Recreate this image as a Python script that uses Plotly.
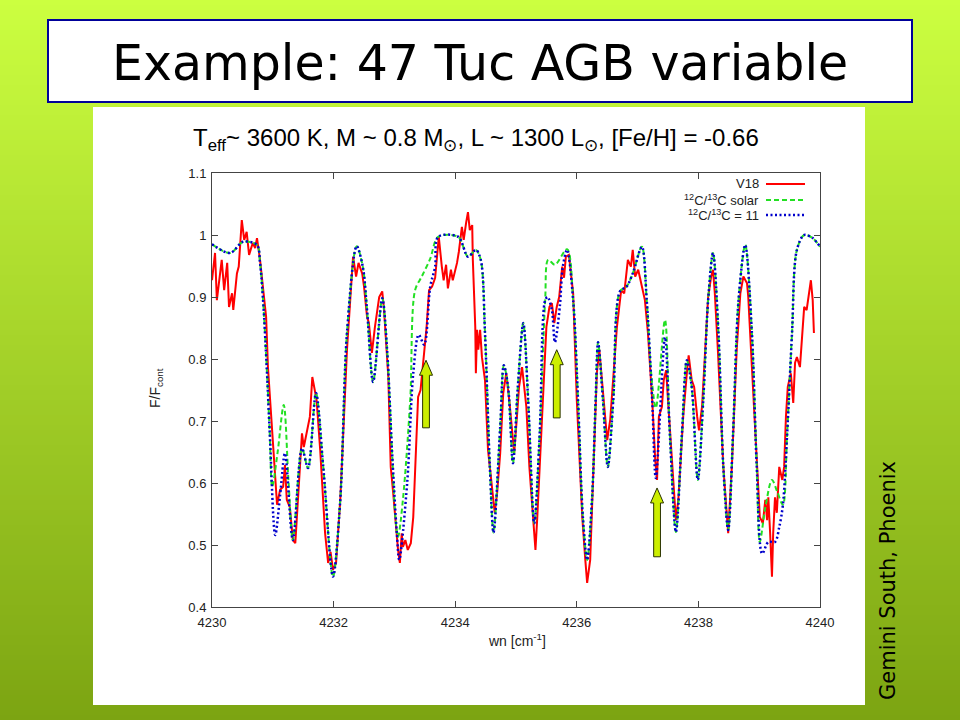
import plotly.graph_objects as go

# ---------------- data ----------------
x_ticks = [4230, 4232, 4234, 4236, 4238, 4240]
x_tick_labels = ["4230", "4232", "4234", "4236", "4238", "4240"]
y_ticks = [0.4, 0.5, 0.6, 0.7, 0.8, 0.9, 1.0, 1.1]
y_tick_labels = ["0.4", "0.5", "0.6", "0.7", "0.8", "0.9", "1", "1.1"]

obs_x = [4230.00, 4230.05, 4230.08, 4230.16, 4230.20, 4230.25, 4230.28, 4230.33, 4230.35, 4230.41,
         4230.44, 4230.49, 4230.53, 4230.57, 4230.61, 4230.67, 4230.71, 4230.74, 4230.79, 4230.84,
         4230.89, 4230.92, 4230.99, 4231.04, 4231.07, 4231.12, 4231.17, 4231.20, 4231.23, 4231.28,
         4231.33, 4231.37, 4231.40, 4231.48, 4231.51, 4231.56, 4231.61, 4231.65, 4231.68, 4231.72,
         4231.78, 4231.86, 4231.91, 4231.95, 4231.99, 4232.04, 4232.11, 4232.22, 4232.32, 4232.37,
         4232.41, 4232.47, 4232.50, 4232.55, 4232.58, 4232.63, 4232.68, 4232.75, 4232.80, 4232.83,
         4232.90, 4232.94, 4232.98, 4233.03, 4233.06, 4233.09, 4233.12, 4233.14, 4233.18, 4233.22,
         4233.27, 4233.31, 4233.36, 4233.39, 4233.43, 4233.47, 4233.53, 4233.57, 4233.62, 4233.67,
         4233.70, 4233.73, 4233.78, 4233.81, 4233.85, 4233.88, 4233.93, 4233.96, 4234.03, 4234.06,
         4234.11, 4234.14, 4234.18, 4234.21, 4234.24, 4234.28, 4234.29, 4234.33, 4234.34, 4234.36,
         4234.38, 4234.41, 4234.44, 4234.49, 4234.54, 4234.61, 4234.65, 4234.69, 4234.74, 4234.79,
         4234.84, 4234.90, 4234.97, 4235.02, 4235.05, 4235.10, 4235.12, 4235.17, 4235.22, 4235.28,
         4235.32, 4235.35, 4235.43, 4235.50, 4235.55, 4235.59, 4235.63, 4235.67, 4235.71, 4235.76,
         4235.79, 4235.82, 4235.87, 4235.94, 4236.00, 4236.09, 4236.14, 4236.17, 4236.22, 4236.27,
         4236.33, 4236.37, 4236.43, 4236.50, 4236.55, 4236.61, 4236.66, 4236.73, 4236.78, 4236.84,
         4236.89, 4236.92, 4236.96, 4237.01, 4237.07, 4237.12, 4237.17, 4237.24, 4237.29, 4237.32,
         4237.35, 4237.40, 4237.43, 4237.47, 4237.50, 4237.57, 4237.63, 4237.67, 4237.75, 4237.81,
         4237.84, 4237.89, 4237.93, 4237.98, 4238.01, 4238.06, 4238.11, 4238.16, 4238.21, 4238.24,
         4238.27, 4238.32, 4238.41, 4238.47, 4238.49, 4238.55, 4238.63, 4238.69, 4238.74, 4238.80,
         4238.82, 4238.88, 4238.96, 4239.01, 4239.06, 4239.10, 4239.13, 4239.15, 4239.18, 4239.21,
         4239.23, 4239.26, 4239.29, 4239.33, 4239.38, 4239.41, 4239.44, 4239.47, 4239.52, 4239.56,
         4239.59, 4239.62, 4239.67, 4239.70, 4239.74, 4239.78, 4239.82, 4239.85, 4239.88, 4239.90]
obs_y = [0.927, 0.971, 0.895, 0.960, 0.911, 0.955, 0.884, 0.906, 0.879, 0.938,
         0.949, 1.024, 0.992, 1.005, 0.968, 0.987, 0.979, 0.995, 0.960, 0.917,
         0.868, 0.787, 0.680, 0.610, 0.565, 0.589, 0.594, 0.629, 0.573, 0.561,
         0.508, 0.503, 0.552, 0.680, 0.658, 0.680, 0.707, 0.771, 0.755, 0.734,
         0.653, 0.519, 0.471, 0.489, 0.460, 0.471, 0.573, 0.815, 0.965, 0.933,
         0.955, 0.938, 0.917, 0.868, 0.858, 0.810, 0.852, 0.900, 0.909, 0.879,
         0.771, 0.626, 0.584, 0.524, 0.492, 0.471, 0.519, 0.497, 0.508, 0.492,
         0.503, 0.545, 0.653, 0.739, 0.750, 0.787, 0.852, 0.911, 0.917, 0.931,
         0.971, 0.997, 0.949, 0.927, 0.952, 0.914, 0.944, 0.927, 0.955, 0.973,
         1.013, 0.992, 1.020, 1.037, 1.008, 1.016, 0.960, 0.852, 0.777, 0.847,
         0.815, 0.847, 0.803, 0.766, 0.653, 0.584, 0.552, 0.584, 0.648, 0.745,
         0.777, 0.723, 0.648, 0.713, 0.755, 0.787, 0.766, 0.723, 0.626, 0.552,
         0.492, 0.545, 0.707, 0.852, 0.884, 0.890, 0.858, 0.884, 0.900, 0.949,
         0.931, 0.965, 0.968, 0.906, 0.734, 0.545, 0.476, 0.439, 0.476, 0.626,
         0.777, 0.815, 0.750, 0.669, 0.702, 0.787, 0.852, 0.911, 0.906, 0.960,
         0.949, 0.976, 0.933, 0.944, 0.917, 0.895, 0.842, 0.734, 0.637, 0.605,
         0.707, 0.723, 0.766, 0.782, 0.734, 0.626, 0.540, 0.573, 0.707, 0.777,
         0.806, 0.766, 0.755, 0.707, 0.685, 0.723, 0.815, 0.900, 0.933, 0.944,
         0.906, 0.815, 0.626, 0.535, 0.519, 0.626, 0.815, 0.906, 0.933, 0.922,
         0.900, 0.787, 0.626, 0.545, 0.535, 0.573, 0.540, 0.577, 0.519, 0.449,
         0.519, 0.577, 0.552, 0.626, 0.605, 0.626, 0.707, 0.755, 0.777, 0.729,
         0.794, 0.803, 0.787, 0.826, 0.884, 0.879, 0.911, 0.927, 0.895, 0.842]

solar_x = [4230.00, 4230.30, 4230.51, 4230.74, 4230.79, 4230.84, 4230.90, 4230.95, 4230.99, 4231.08,
           4231.18, 4231.26, 4231.33, 4231.48, 4231.58, 4231.71, 4231.83, 4231.99, 4232.11, 4232.22,
           4232.38, 4232.48, 4232.55, 4232.65, 4232.80, 4232.88, 4232.96, 4233.02, 4233.06, 4233.14,
           4233.26, 4233.34, 4233.45, 4233.59, 4233.72, 4234.05, 4234.21, 4234.34, 4234.42, 4234.49,
           4234.57, 4234.63, 4234.74, 4234.80, 4234.87, 4234.95, 4235.03, 4235.12, 4235.20, 4235.30,
           4235.39, 4235.48, 4235.53, 4235.64, 4235.84, 4235.94, 4236.02, 4236.10, 4236.17, 4236.25,
           4236.31, 4236.35, 4236.43, 4236.51, 4236.60, 4236.71, 4236.82, 4236.92, 4237.07, 4237.15,
           4237.23, 4237.30, 4237.45, 4237.53, 4237.63, 4237.73, 4237.81, 4237.89, 4237.99, 4238.08,
           4238.16, 4238.24, 4238.33, 4238.41, 4238.49, 4238.57, 4238.66, 4238.77, 4238.88, 4238.96,
           4239.01, 4239.10, 4239.21, 4239.30, 4239.39, 4239.46, 4239.54, 4239.62, 4239.74, 4239.88,
           4240.00]
solar_y = [0.985, 0.971, 0.989, 0.984, 0.955, 0.895, 0.787, 0.680, 0.594, 0.650,
           0.726, 0.600, 0.508, 0.656, 0.624, 0.745, 0.626, 0.449, 0.573, 0.842,
           0.982, 0.949, 0.879, 0.763, 0.898, 0.815, 0.653, 0.540, 0.513, 0.573,
           0.734, 0.911, 0.933, 0.962, 0.997, 0.997, 0.965, 0.976, 0.960, 0.842,
           0.626, 0.520, 0.690, 0.790, 0.755, 0.632, 0.755, 0.858, 0.734, 0.535,
           0.680, 0.895, 0.960, 0.952, 0.977, 0.895, 0.734, 0.545, 0.476, 0.573,
           0.734, 0.827, 0.734, 0.626, 0.734, 0.909, 0.917, 0.938, 0.981, 0.895,
           0.770, 0.721, 0.863, 0.680, 0.521, 0.680, 0.798, 0.755, 0.605, 0.734,
           0.895, 0.971, 0.842, 0.626, 0.524, 0.680, 0.895, 0.984, 0.842, 0.626,
           0.505, 0.560, 0.605, 0.585, 0.565, 0.680, 0.842, 0.976, 1.000, 0.995,
           0.981]

c11_x = [4230.00, 4230.30, 4230.51, 4230.74, 4230.79, 4230.84, 4230.90, 4230.95, 4231.04, 4231.12,
         4231.20, 4231.33, 4231.48, 4231.58, 4231.71, 4231.83, 4231.99, 4232.11, 4232.22, 4232.38,
         4232.48, 4232.55, 4232.65, 4232.80, 4232.88, 4232.96, 4233.04, 4233.08, 4233.21, 4233.31,
         4233.40, 4233.49, 4233.59, 4233.67, 4233.72, 4234.05, 4234.21, 4234.34, 4234.42, 4234.49,
         4234.57, 4234.63, 4234.74, 4234.80, 4234.87, 4234.95, 4235.03, 4235.12, 4235.20, 4235.30,
         4235.39, 4235.48, 4235.52, 4235.59, 4235.64, 4235.72, 4235.77, 4235.84, 4235.94, 4236.02,
         4236.10, 4236.17, 4236.25, 4236.31, 4236.35, 4236.43, 4236.51, 4236.60, 4236.71, 4236.82,
         4236.92, 4237.07, 4237.15, 4237.24, 4237.30, 4237.45, 4237.53, 4237.63, 4237.73, 4237.81,
         4237.89, 4237.99, 4238.08, 4238.16, 4238.24, 4238.33, 4238.41, 4238.49, 4238.57, 4238.66,
         4238.77, 4238.88, 4238.96, 4239.05, 4239.15, 4239.26, 4239.33, 4239.39, 4239.46, 4239.54,
         4239.62, 4239.74, 4239.88, 4240.00]
c11_y = [0.985, 0.971, 0.989, 0.984, 0.955, 0.895, 0.787, 0.680, 0.516, 0.580,
         0.648, 0.508, 0.656, 0.624, 0.745, 0.626, 0.449, 0.573, 0.842, 0.982,
         0.949, 0.879, 0.763, 0.898, 0.815, 0.653, 0.519, 0.476, 0.600, 0.777,
         0.839, 0.823, 0.917, 0.949, 0.997, 0.997, 0.965, 0.976, 0.960, 0.842,
         0.626, 0.520, 0.690, 0.790, 0.755, 0.632, 0.755, 0.858, 0.734, 0.535,
         0.680, 0.895, 0.900, 0.879, 0.827, 0.884, 0.949, 0.976, 0.895, 0.734,
         0.545, 0.476, 0.573, 0.734, 0.827, 0.734, 0.626, 0.734, 0.909, 0.917,
         0.938, 0.981, 0.895, 0.734, 0.608, 0.835, 0.680, 0.521, 0.680, 0.798,
         0.755, 0.605, 0.734, 0.895, 0.971, 0.842, 0.626, 0.524, 0.680, 0.895,
         0.984, 0.842, 0.626, 0.486, 0.505, 0.505, 0.529, 0.565, 0.680, 0.842,
         0.976, 1.000, 0.995, 0.981]

arrow_x = [4233.52, 4235.67, 4237.32]
arrow_tip = [0.798, 0.815, 0.592]
arrow_base = [0.689, 0.705, 0.481]

legend_labels = ["V18", "<sup>12</sup>C/<sup>13</sup>C solar", "<sup>12</sup>C/<sup>13</sup>C = 11"]

# ---------------- layout helpers ----------------
W, H = 960, 720
L, R, T, B = 212, 820, 173, 607


def PX(p):
    return (p - L) / (R - L)


def PY(p):
    return (B - p) / (B - T)


fig = go.Figure()

fig.add_trace(go.Scatter(x=obs_x, y=obs_y, mode="lines", line=dict(color="#ff0000", width=2),
                         hoverinfo="skip", showlegend=False))
fig.add_trace(go.Scatter(x=solar_x, y=solar_y, mode="lines",
                         line=dict(color="#22e022", width=2, dash="5px,3px", shape="spline", smoothing=0.9),
                         hoverinfo="skip", showlegend=False))
fig.add_trace(go.Scatter(x=c11_x, y=c11_y, mode="lines",
                         line=dict(color="#0000cc", width=2.5, dash="2px,2.5px", shape="spline", smoothing=0.9),
                         hoverinfo="skip", showlegend=False))

# arrows
sw = 3.4 / 60.8
hw = 6.5 / 60.8
hh = 15 / 620
for ax, at, ab in zip(arrow_x, arrow_tip, arrow_base):
    xs = [ax - sw, ax - sw, ax - hw, ax, ax + hw, ax + sw, ax + sw, ax - sw]
    ys = [ab, at - hh, at - hh, at, at - hh, at - hh, ab, ab]
    fig.add_trace(go.Scatter(x=xs, y=ys, mode="lines", fill="toself", fillcolor="#ccee00",
                             line=dict(color="#2a3300", width=1), hoverinfo="skip", showlegend=False))

shapes = []
# background gradient
top = (204, 255, 64)
bot = (124, 164, 18)
step = 5
for y0 in range(0, H, step):
    t = (y0 + step / 2) / H
    c = tuple(round(top[k] + (bot[k] - top[k]) * t) for k in range(3))
    shapes.append(dict(type="rect", xref="paper", yref="paper", layer="below",
                       x0=PX(0), x1=PX(W), y0=PY(y0 + step + 1), y1=PY(y0),
                       fillcolor="rgb(%d,%d,%d)" % c, line=dict(width=0)))
# white chart panel
shapes.append(dict(type="rect", xref="paper", yref="paper", layer="below",
                   x0=PX(93), x1=PX(865), y0=PY(705), y1=PY(107),
                   fillcolor="white", line=dict(width=0)))
# title box
shapes.append(dict(type="rect", xref="paper", yref="paper", layer="below",
                   x0=PX(48), x1=PX(912), y0=PY(102), y1=PY(20),
                   fillcolor="white", line=dict(color="#000099", width=2)))
# legend samples
leg_y = [184, 200, 215]
leg_col = ["#ff0000", "#22e022", "#0000cc"]
leg_dash = ["solid", "5px,3px", "2px,2.5px"]
leg_w = [2, 2, 2.5]
for yy, col, dsh, lw in zip(leg_y, leg_col, leg_dash, leg_w):
    shapes.append(dict(type="line", xref="paper", yref="paper", x0=PX(766), x1=PX(805),
                       y0=PY(yy), y1=PY(yy), line=dict(color=col, width=lw, dash=dsh)))

annotations = []
annotations.append(dict(xref="paper", yref="paper", x=PX(480), y=PY(63), text="Example: 47 Tuc AGB variable",
                        showarrow=False, xanchor="center", yanchor="middle",
                        font=dict(family="DejaVu Sans", size=49, color="black")))
annotations.append(dict(xref="paper", yref="paper", x=PX(476), y=PY(140),
                        text="T<sub>eff</sub>~ 3600 K, M ~ 0.8 M<sub>⊙</sub>, L ~ 1300 L<sub>⊙</sub>, [Fe/H] = -0.66",
                        showarrow=False, xanchor="center", yanchor="middle",
                        font=dict(family="Liberation Sans, Arial", size=24, color="black")))
annotations.append(dict(xref="paper", yref="paper", x=PX(888), y=PY(581), text="Gemini South, Phoenix",
                        showarrow=False, xanchor="center", yanchor="middle", textangle=-90,
                        font=dict(family="DejaVu Sans", size=21, color="black")))
annotations.append(dict(xref="paper", yref="paper", x=PX(156), y=PY(388), text="F/F<sub>cont</sub>",
                        showarrow=False, xanchor="center", yanchor="middle", textangle=-90,
                        font=dict(family="Liberation Sans, Arial", size=14, color="#222")))
annotations.append(dict(xref="paper", yref="paper", x=PX(517), y=PY(640), text="wn [cm<sup>-1</sup>]",
                        showarrow=False, xanchor="center", yanchor="middle",
                        font=dict(family="Liberation Sans, Arial", size=14, color="#222")))
for yy, lab in zip(leg_y, legend_labels):
    annotations.append(dict(xref="paper", yref="paper", x=PX(761), y=PY(yy), text=lab,
                            showarrow=False, xanchor="right", yanchor="middle",
                            font=dict(family="Liberation Sans, Arial", size=13, color="#222")))

axis_common = dict(showgrid=False, zeroline=False, showline=True, linecolor="#444", linewidth=1,
                   mirror="ticks", ticks="inside", ticklen=6, tickcolor="#444", tickwidth=1,
                   tickfont=dict(family="Liberation Sans, Arial", size=13, color="#222"))

fig.update_layout(
    width=W, height=H, autosize=False,
    margin=dict(l=L, r=W - R, t=T, b=H - B, pad=0),
    paper_bgcolor="rgb(204,255,64)", plot_bgcolor="rgba(0,0,0,0)",
    xaxis=dict(range=[4230, 4240], tickvals=x_ticks, ticktext=x_tick_labels, ticklabelstandoff=3, **axis_common),
    yaxis=dict(range=[0.4, 1.1], tickvals=y_ticks, ticktext=y_tick_labels, ticklabelstandoff=2, **axis_common),
    shapes=shapes, annotations=annotations, showlegend=False,
)

fig.write_html("out.html", config={"displayModeBar": False},
               post_script="document.body.style.margin='0';document.body.style.overflow='hidden';")
